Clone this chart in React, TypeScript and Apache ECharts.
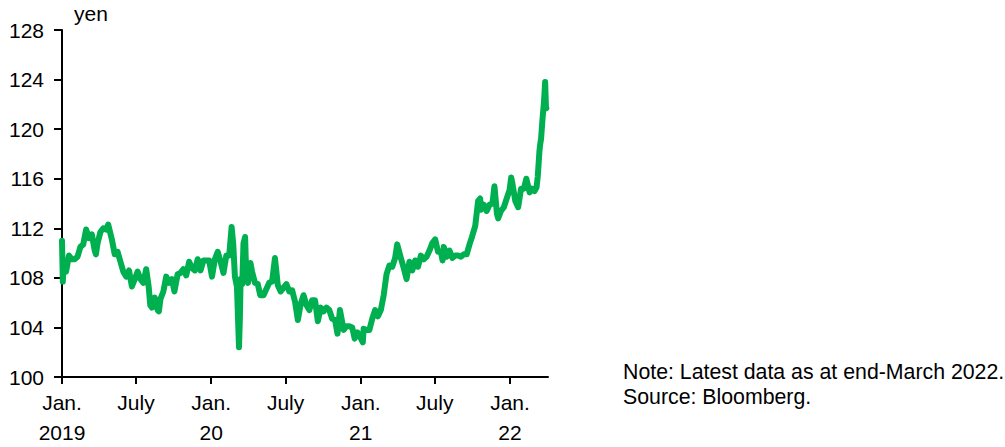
import React, { useEffect, useRef } from "react";
import * as echarts from "echarts";

const dates: string[] = [
  "2019-01-01","2019-01-03","2019-01-04","2019-01-11","2019-01-18","2019-01-25","2019-02-01","2019-02-08","2019-02-15","2019-02-22",
  "2019-03-01","2019-03-08","2019-03-15","2019-03-22","2019-03-25","2019-03-29","2019-04-05","2019-04-12","2019-04-19","2019-04-24",
  "2019-05-03","2019-05-10","2019-05-17","2019-05-24","2019-05-31","2019-06-07","2019-06-14","2019-06-21","2019-06-28","2019-07-05",
  "2019-07-12","2019-07-19","2019-07-26","2019-08-01","2019-08-05","2019-08-09","2019-08-16","2019-08-23","2019-08-26","2019-08-30",
  "2019-09-06","2019-09-13","2019-09-20","2019-09-27","2019-10-03","2019-10-11","2019-10-18","2019-10-25","2019-11-01","2019-11-08",
  "2019-11-15","2019-11-22","2019-11-29","2019-12-06","2019-12-13","2019-12-20","2019-12-27",
  "2020-01-03","2020-01-10","2020-01-17","2020-01-24","2020-01-31","2020-02-07","2020-02-14","2020-02-20","2020-02-24","2020-02-28",
  "2020-03-04","2020-03-09","2020-03-11","2020-03-13","2020-03-17","2020-03-20","2020-03-24","2020-03-27","2020-03-31","2020-04-03",
  "2020-04-06","2020-04-10","2020-04-17","2020-04-24","2020-04-30","2020-05-08","2020-05-15","2020-05-22","2020-05-29","2020-06-05",
  "2020-06-12","2020-06-19","2020-06-26","2020-07-03","2020-07-10","2020-07-17","2020-07-24","2020-07-31","2020-08-07","2020-08-14",
  "2020-08-21","2020-08-28","2020-09-04","2020-09-11","2020-09-18","2020-09-25","2020-10-02","2020-10-09","2020-10-16","2020-10-23",
  "2020-10-30","2020-11-05","2020-11-11","2020-11-20","2020-11-27","2020-12-04","2020-12-11","2020-12-17","2020-12-24","2020-12-31",
  "2021-01-06","2021-01-08","2021-01-15","2021-01-22","2021-01-29","2021-02-05","2021-02-12","2021-02-19","2021-02-26","2021-03-05",
  "2021-03-12","2021-03-19","2021-03-26","2021-03-31","2021-04-09","2021-04-16","2021-04-23","2021-04-30","2021-05-07","2021-05-14",
  "2021-05-21","2021-05-28","2021-06-04","2021-06-11","2021-06-18","2021-06-25","2021-07-02","2021-07-09","2021-07-16","2021-07-20",
  "2021-07-23","2021-07-30","2021-08-06","2021-08-13","2021-08-20","2021-08-27","2021-09-03","2021-09-10","2021-09-17","2021-09-24",
  "2021-09-30","2021-10-08","2021-10-15","2021-10-20","2021-10-22","2021-10-29","2021-11-05","2021-11-12","2021-11-19","2021-11-24",
  "2021-11-30","2021-12-03","2021-12-10","2021-12-17","2021-12-24","2021-12-31",
  "2022-01-04","2022-01-07","2022-01-14","2022-01-21","2022-01-28","2022-02-04","2022-02-10","2022-02-18","2022-02-24","2022-03-02",
  "2022-03-07","2022-03-10","2022-03-14","2022-03-16","2022-03-18","2022-03-22","2022-03-25","2022-03-28","2022-03-29","2022-03-30",
  "2022-03-31"
];

const usdJpy: number[] = [
  111.0,107.7,108.5,108.5,109.8,109.5,109.5,109.7,110.5,110.7,
  111.9,111.2,111.5,110.2,109.9,110.8,111.7,112.0,111.9,112.3,
  111.1,109.9,110.1,109.3,108.5,108.1,108.6,107.3,107.9,108.5,
  107.9,107.6,108.7,107.3,105.8,105.6,106.4,105.4,105.3,106.3,
  106.9,108.1,107.6,107.9,106.9,108.3,108.4,108.7,108.2,109.3,
  108.8,108.6,109.5,108.6,109.4,109.4,109.4,
  108.1,109.5,110.1,109.3,108.4,109.8,109.8,112.1,110.7,108.1,
  107.3,102.4,104.5,107.9,107.5,110.8,111.3,107.8,107.6,108.5,
  109.2,108.5,107.6,107.5,106.6,106.6,107.1,107.6,107.7,109.6,
  107.4,106.9,107.2,107.5,106.9,107.0,106.1,104.6,105.9,106.6,
  105.8,105.4,106.2,106.2,104.5,105.6,105.3,105.6,105.4,104.7,
  104.6,103.5,105.4,103.8,104.1,104.1,104.0,103.1,103.6,103.2,
  102.8,103.9,103.8,103.8,104.7,105.4,104.9,105.4,106.6,108.3,
  109.0,108.9,109.6,110.7,109.6,108.8,107.9,109.3,108.6,109.4,
  108.9,109.8,109.5,109.7,110.2,110.8,111.1,110.1,110.1,109.4,
  110.5,109.7,110.2,109.6,109.8,109.8,109.7,109.9,109.9,110.7,
  111.3,112.2,114.2,114.4,113.5,113.9,113.4,113.9,114.0,115.4,
  113.2,112.8,113.4,113.7,114.4,115.1,
  116.1,115.6,114.2,113.7,115.2,115.2,116.0,114.9,115.2,115.0,
  115.3,116.2,118.2,118.8,119.2,121.0,122.1,123.8,122.8,121.8,
  121.7
];

const tickDates: string[] = ["2019-01-01","2019-07-01","2020-01-01","2020-07-01","2021-01-01","2021-07-01","2022-01-01"];
const tickLabels: string[] = ["Jan.\n2019","July","Jan.\n20","July","Jan.\n21","July","Jan.\n22"];
const yTicks: number[] = [100, 104, 108, 112, 116, 120, 124, 128];

const axisStart = "2019-01-01";
const axisEnd = "2022-04-04";
const dayMs = 86400000;
const toDay = (d: string) => (Date.parse(d + "T00:00:00Z") - Date.parse(axisStart + "T00:00:00Z")) / dayMs;

const FONT = "'Liberation Sans', Arial, Helvetica, sans-serif";

export default function App() {
  const ref = useRef<HTMLDivElement>(null);
  useEffect(() => {
    if (!ref.current) return;
    const chart = echarts.init(ref.current, undefined, { renderer: "svg" });
    const tickDays = tickDates.map(toDay);
    const labelMap: Record<number, string> = {};
    tickDays.forEach((d, i) => (labelMap[d] = tickLabels[i]));
    chart.setOption({
      animation: false,
      grid: { left: 62, right: 457, top: 30, bottom: 67 },
      xAxis: {
        type: "value",
        min: 0,
        max: toDay(axisEnd),
        splitLine: { show: false },
        axisLine: { show: true, onZero: false, lineStyle: { color: "#000", width: 2 } },
        axisTick: { show: true, inside: false, length: 7, customValues: tickDays, lineStyle: { color: "#000", width: 2 } },
        axisLabel: {
          customValues: tickDays,
          formatter: (v: number) => labelMap[v] ?? "",
          fontSize: 21,
          lineHeight: 30,
          margin: 10,
          color: "#000",
          fontFamily: FONT,
        },
      },
      yAxis: {
        type: "value",
        min: 100,
        max: 128,
        interval: 4,
        splitLine: { show: false },
        axisLine: { show: true, lineStyle: { color: "#000", width: 2 } },
        axisTick: { show: true, inside: false, length: 8, lineStyle: { color: "#000", width: 2 } },
        axisLabel: {
          fontSize: 21,
          margin: 18,
          color: "#000",
          fontFamily: FONT,
          formatter: (v: number) => (yTicks.includes(v) ? String(v) : ""),
        },
      },
      graphic: [
        { type: "text", left: 74, top: 3, style: { text: "yen", fontSize: 21, fill: "#000", fontFamily: FONT } },
        {
          type: "text",
          left: 623,
          top: 359,
          style: {
            text: "Note: Latest data as at end-March 2022.\nSource: Bloomberg.",
            fontSize: 21.3,
            lineHeight: 25,
            fill: "#000",
            fontFamily: FONT,
          },
        },
      ],
      series: [
        {
          type: "line",
          data: dates.map((d, i) => [toDay(d), usdJpy[i]]),
          showSymbol: false,
          smooth: false,
          lineStyle: { color: "#00B050", width: 6, cap: "round", join: "round" },
          itemStyle: { color: "#00B050" },
        },
      ],
    });
    return () => chart.dispose();
  }, []);
  return <div ref={ref} style={{ width: 1005, height: 447, position: "absolute", left: 0, top: 0 }} />;
}
